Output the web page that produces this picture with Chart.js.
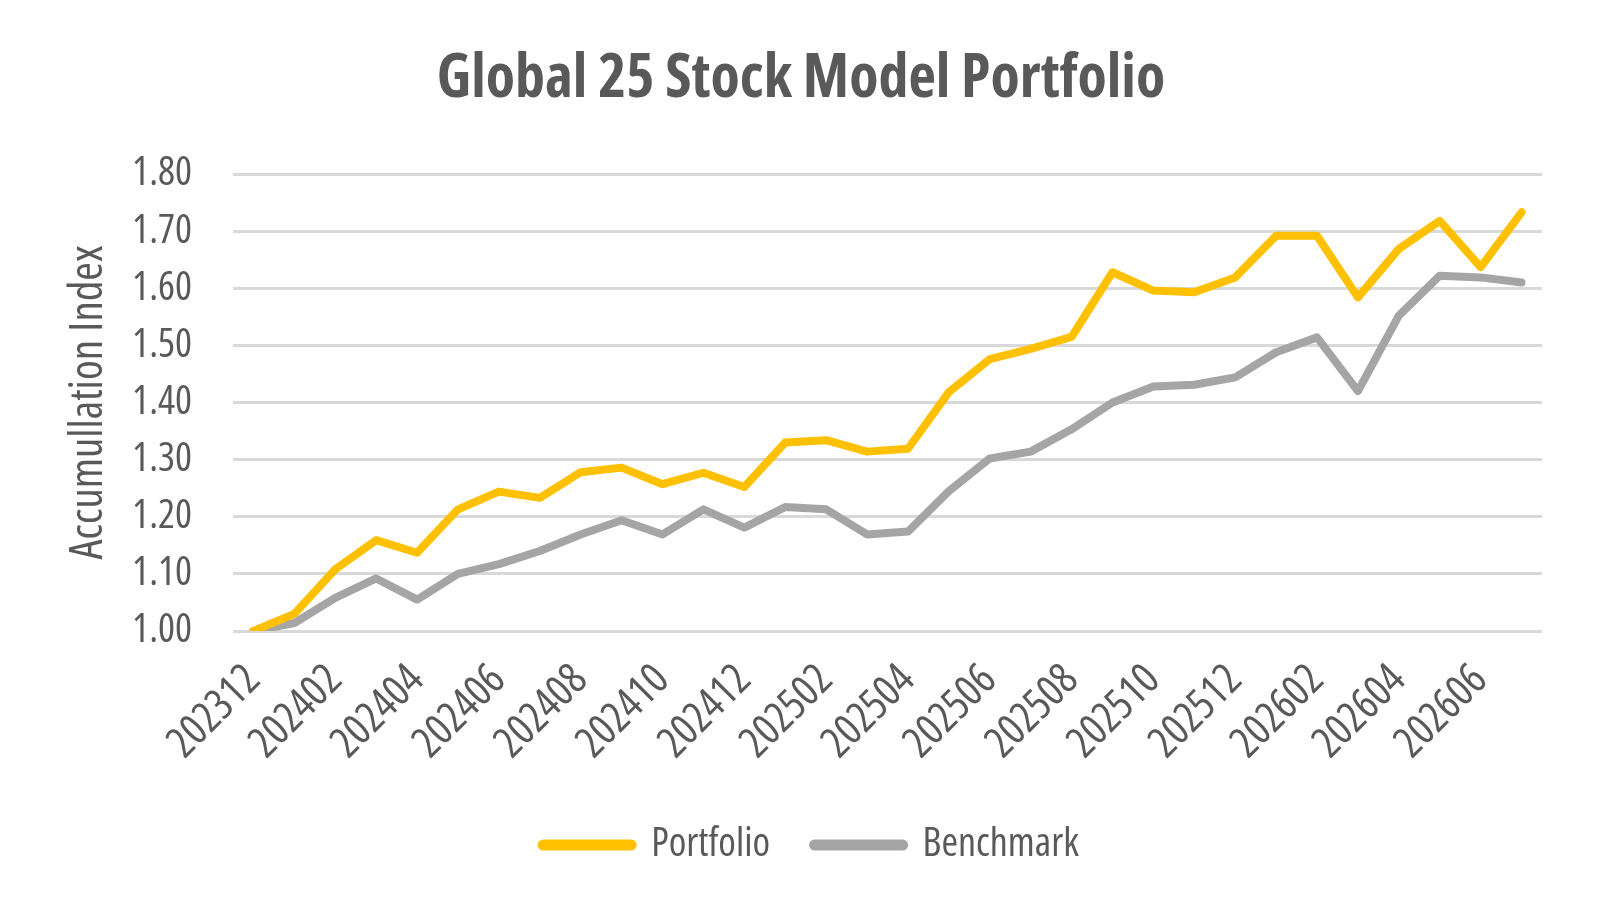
<!DOCTYPE html>
<html>
<head>
<meta charset="utf-8">
<script src="https://cdn.jsdelivr.net/npm/chart.js@4"></script>
<style>
  html, body { margin: 0; padding: 0; background: #fff; }
  #wrap { width: 1607px; height: 913px; }
</style>
</head>
<body>
<div id="wrap"><canvas id="myChart"></canvas></div>
<script>
const months = [
  '202312', '202401', '202402', '202403', '202404', '202405', '202406', '202407',
  '202408', '202409', '202410', '202411', '202412', '202501', '202502', '202503',
  '202504', '202505', '202506', '202507', '202508', '202509', '202510', '202511',
  '202512', '202601', '202602', '202603', '202604', '202605', '202606', '202607'
]

const portfolio = [
  1.00, 1.03, 1.108, 1.159, 1.137, 1.213, 1.244, 1.233, 1.278, 1.286,
  1.257, 1.277, 1.252, 1.330, 1.334, 1.314, 1.319, 1.418, 1.476, 1.494,
  1.515, 1.628, 1.596, 1.593, 1.619, 1.692, 1.692, 1.584, 1.669, 1.718,
  1.637, 1.733
]

const benchmark = [
  1.00, 1.014, 1.058, 1.092, 1.055, 1.100, 1.117, 1.140, 1.169, 1.194,
  1.169, 1.213, 1.181, 1.217, 1.213, 1.169, 1.174, 1.245, 1.302, 1.314,
  1.353, 1.400, 1.428, 1.431, 1.444, 1.488, 1.514, 1.420, 1.552, 1.622,
  1.619, 1.610
]

// condensed Open Sans (goes in the font shorthand via "weight")
const font = "'Open Sans', 'Roboto Condensed', sans-serif"
const textColor = '#595959'
const txt = (size) => ({ family: font, size: size, weight: 'normal condensed' })

const ctx = document.getElementById('myChart')

// nudge the legend a bit to the right, like the original
const legendShift = {
  id: 'legendShift',
  afterLayout(chart) {
    chart.legend.left += 10
    chart.legend.right += 10
  }
}

const data = {
  labels: months,
  datasets: [
    {
      label: 'Portfolio',
      data: portfolio,
      borderColor: '#FFC000',
      backgroundColor: '#FFC000',
      borderWidth: 8,
      pointRadius: 0,
      pointStyle: 'line',
      borderJoinStyle: 'round',
      borderCapStyle: 'round'
    },
    {
      label: 'Benchmark',
      data: benchmark,
      borderColor: '#A5A5A5',
      backgroundColor: '#A5A5A5',
      borderWidth: 8,
      pointRadius: 0,
      pointStyle: 'line',
      borderJoinStyle: 'round',
      borderCapStyle: 'round'
    }
  ]
}

const config = {
  type: 'line',
  data: data,
  plugins: [legendShift],
  options: {
    responsive: true,
    maintainAspectRatio: false,
    animation: false,
    layout: { padding: { left: 60, right: 65, top: 0, bottom: 38 } },
    plugins: {
      title: {
        display: true,
        text: 'Global 25 Stock Model Portfolio',
        color: textColor,
        font: { family: font, size: 60, weight: 'bold condensed' },
        padding: { top: 44, bottom: 58 }
      },
      legend: {
        position: 'bottom',
        labels: {
          color: textColor,
          font: txt(40),
          usePointStyle: true,
          pointStyleWidth: 88,
          boxHeight: 10,
          padding: 0,
          generateLabels: (chart) => {
            const items = Chart.defaults.plugins.legend.labels.generateLabels(chart)
            items.forEach((item, i) => {
              item.lineWidth = 11
              item.lineCap = 'round'
              if (i === 0) item.text = item.text + '      '
            })
            return items
          }
        }
      },
      tooltip: { enabled: false }
    },
    scales: {
      x: {
        offset: true,
        grid: { display: false },
        border: { display: false },
        afterFit: (scale) => { scale.height = 194 },
        ticks: {
          color: textColor,
          font: txt(43),
          autoSkip: false,
          maxRotation: 45,
          minRotation: 45,
          padding: 16,
          callback: function(value, index) {
            return index % 2 === 0 ? this.getLabelForValue(value) : ''
          }
        }
      },
      y: {
        min: 1.0,
        max: 1.8,
        border: { display: false },
        grid: { color: '#D9D9D9', lineWidth: 3, drawTicks: false },
        afterFit: (scale) => { scale.width = 173 },
        title: {
          display: true,
          text: 'Accumullation Index',
          color: textColor,
          font: txt(45),
          padding: { top: 2, bottom: 0 }
        },
        ticks: {
          stepSize: 0.1,
          color: textColor,
          font: txt(40),
          padding: 41,
          callback: (value) => value.toFixed(2)
        }
      }
    }
  }
}

const myChart = new Chart(ctx, config)
</script>
</body>
</html>
